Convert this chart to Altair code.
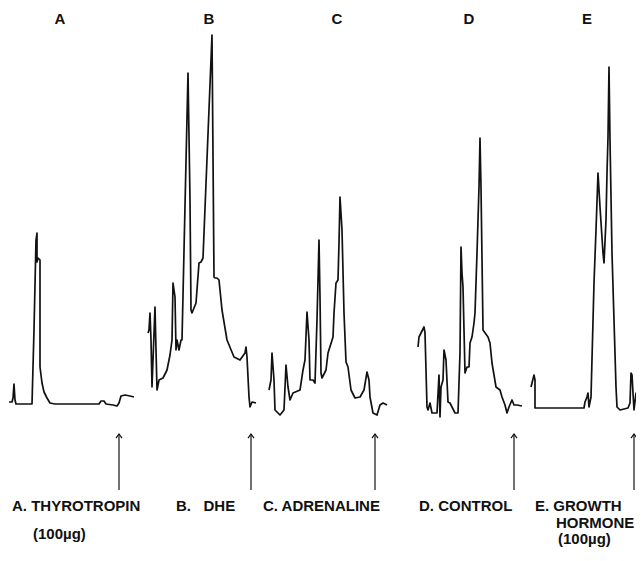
import altair as alt
import pandas as pd

# ---- trace data (elution position, recorder deflection) ----
a_x = [9, 12, 13, 14, 15, 16, 32, 34, 36, 37, 37, 38, 40, 40, 40, 42, 44, 47, 50, 55, 99, 101, 104, 106, 113, 117, 119, 121, 125, 130, 134]
a_y = [402, 402, 398, 384, 400, 404, 404, 330, 240, 233, 262, 258, 260, 270, 367, 383, 392, 398, 403, 404, 404, 401, 401, 404, 405, 406, 403, 396, 395, 396, 397]

b_x = [148, 149, 150, 151, 152, 153, 155, 156, 157, 159, 163, 167, 170, 172, 173, 174, 175, 176, 177, 179, 181, 182, 188, 190, 191, 192, 196, 199, 201, 203, 212, 214, 215, 217, 219, 222, 227, 234, 240, 245, 246, 247, 249, 250, 252, 256]
b_y = [333, 330, 313, 340, 387, 360, 307, 350, 390, 380, 378, 370, 355, 340, 283, 290, 297, 350, 340, 350, 340, 340, 73, 200, 310, 313, 303, 263, 262, 258, 35, 277, 278, 278, 280, 310, 340, 357, 360, 353, 347, 357, 397, 407, 402, 403]

c_x = [269, 271, 272, 274, 275, 280, 284, 286, 288, 290, 293, 300, 303, 305, 307, 309, 310, 313, 315, 317, 319, 320, 321, 322, 326, 328, 333, 334, 336, 338, 339, 340, 342, 344, 346, 348, 351, 355, 360, 364, 367, 369, 370, 373, 377, 380, 383, 387]
c_y = [390, 380, 353, 380, 410, 415, 410, 365, 387, 400, 393, 390, 370, 360, 312, 340, 380, 380, 383, 320, 240, 297, 373, 378, 370, 353, 337, 313, 283, 280, 243, 197, 230, 313, 362, 367, 390, 398, 397, 390, 372, 380, 397, 413, 415, 405, 403, 405]

d_x = [418, 419, 424, 425, 427, 428, 430, 432, 437, 439, 440, 441, 443, 444, 446, 448, 450, 455, 458, 460, 461, 462, 463, 465, 467, 469, 470, 472, 474, 475, 477, 479, 480, 481, 483, 488, 490, 492, 496, 500, 502, 505, 507, 509, 512, 514, 517, 522]
d_y = [347, 337, 327, 333, 407, 410, 403, 413, 413, 375, 417, 387, 380, 350, 360, 402, 403, 413, 413, 353, 247, 273, 287, 373, 367, 367, 343, 337, 323, 313, 253, 187, 138, 187, 330, 337, 343, 363, 387, 390, 397, 405, 413, 407, 400, 405, 405, 406]

e_x = [531, 534, 535, 535, 584, 585, 587, 588, 589, 591, 594, 596, 598, 600, 603, 604, 606, 607, 608, 609, 610, 612, 614, 616, 617, 620, 628, 630, 631, 632, 633, 634, 636, 638, 642]
e_y = [387, 375, 380, 408, 408, 402, 397, 393, 407, 397, 283, 230, 173, 207, 253, 263, 220, 173, 137, 67, 140, 253, 320, 387, 407, 410, 408, 403, 373, 375, 393, 410, 393, 393, 393]

# ---- annotations ----
top_letters = ["A", "B", "C", "D", "E"]
top_letter_x = [60, 209, 337, 469, 587]
top_letter_y = [19, 19, 19, 19, 19]

arrow_x = [119, 251, 375, 514, 634]
arrow_top = [434, 434, 434, 434, 434]
arrow_bottom = [490, 490, 490, 490, 490]

label_text = ["A. THYROTROPIN", "(100\u00b5g)", "B.\u00a0\u00a0\u00a0DHE", "C. ADRENALINE", "D. CONTROL", "E. GROWTH", "HORMONE", "(100\u00b5g)"]
label_x = [12, 33, 176, 263, 419, 535, 556, 558]
label_y = [506, 534, 506, 506, 506, 506, 523, 539]

# ---- tables ----
rows = []
for name, xs_, ys_ in [("A", a_x, a_y), ("B", b_x, b_y), ("C", c_x, c_y), ("D", d_x, d_y), ("E", e_x, e_y)]:
    for i, (xv, yv) in enumerate(zip(xs_, ys_)):
        rows.append({"panel": name, "idx": i, "x": xv, "y": yv})
traces = pd.DataFrame(rows)

letters = pd.DataFrame({"t": top_letters, "x": top_letter_x, "y": top_letter_y})
arrows = pd.DataFrame({"x": arrow_x, "y": arrow_top, "y2": arrow_bottom})
labels = pd.DataFrame({"t": label_text, "x": label_x, "y": label_y})

W, H = 628, 540
xs = alt.Scale(domain=[8, 8 + W], nice=False, zero=False)
ys = alt.Scale(domain=[8, 8 + H], nice=False, zero=False, reverse=True)

line = alt.Chart(traces).mark_line(color="#111111", strokeWidth=1.7, strokeJoin="round").encode(
    x=alt.X("x:Q", scale=xs, axis=None),
    y=alt.Y("y:Q", scale=ys, axis=None),
    detail="panel:N",
    order="idx:Q",
)

shaft = alt.Chart(arrows).mark_rule(color="#111111", strokeWidth=1.2).encode(
    x=alt.X("x:Q", scale=xs, axis=None),
    y=alt.Y("y:Q", scale=ys, axis=None),
    y2="y2:Q",
)

head = alt.Chart(arrows).mark_point(
    shape="M -1 1.4 L 0 0 L 1 1.4", filled=False, color="#111111", strokeWidth=1.2, size=36, opacity=1
).encode(
    x=alt.X("x:Q", scale=xs, axis=None),
    y=alt.Y("y:Q", scale=ys, axis=None),
)

top_text = alt.Chart(letters).mark_text(
    font="Liberation Sans", fontWeight="bold", fontSize=15, align="center", baseline="middle", color="#111111"
).encode(
    x=alt.X("x:Q", scale=xs, axis=None),
    y=alt.Y("y:Q", scale=ys, axis=None),
    text="t:N",
)

bottom_text = alt.Chart(labels).mark_text(
    font="Liberation Sans", fontWeight="bold", fontSize=15, align="left", baseline="middle", color="#111111"
).encode(
    x=alt.X("x:Q", scale=xs, axis=None),
    y=alt.Y("y:Q", scale=ys, axis=None),
    text="t:N",
)

chart = (
    alt.layer(line, shaft, head, top_text, bottom_text)
    .properties(width=W, height=H, padding=0, autosize=alt.AutoSizeParams(type="none"))
    .configure(background="white")
    .configure_view(stroke="transparent", strokeWidth=0)
)

chart.save("out.html", embed_options={"renderer": "svg", "actions": False})
